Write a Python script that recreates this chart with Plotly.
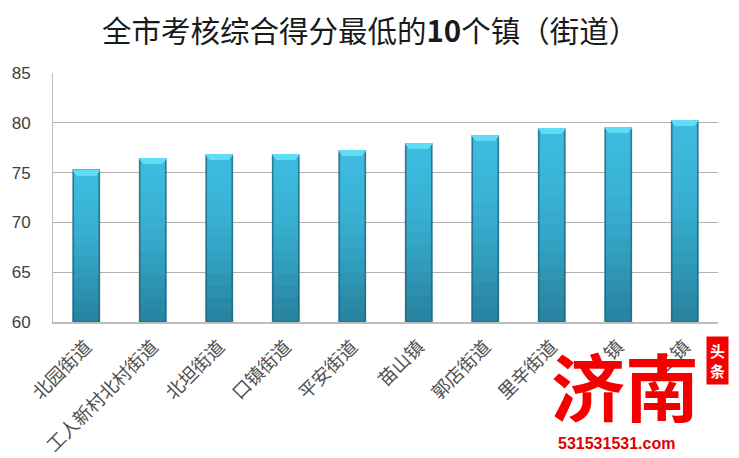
import plotly.graph_objects as go

CATEGORIES = ["北园街道", "工人新村北村街道", "北坦街道", "口镇街道", "平安街道",
              "苗山镇", "郭店街道", "里辛街道", "镇", "二镇"]
SCORES = [75.25, 76.4, 76.8, 76.8, 77.2, 77.9, 78.7, 79.4, 79.5, 80.2]
BASE = 60
# top to bottom body colours of the bars
BODY_COLORS = ["#3DBADD", "#3CB9DC", "#3BB7DA", "#3AB5D8", "#39B3D5", "#38AFD1", "#36ABCC",
               "#34A6C7", "#32A1C1", "#309BBA", "#2E95B3", "#2C8FAD", "#2A89A6", "#2884A0"]
# the bevel on top of each bar narrows as it goes down
CAP_WIDTHS = [0.4, 0.375, 0.35, 0.325, 0.3]
CAP_STEP = 0.1

fig = go.Figure()

# soft shadow behind the bars
fig.add_trace(go.Bar(
    x=CATEGORIES,
    y=[v - BASE for v in SCORES],
    base=BASE,
    width=0.43,
    marker=dict(color="rgba(90,90,90,0.25)", line=dict(width=0)),
    hoverinfo="skip",
))

# gradient: nested bars, each shorter one painted over the taller one
n = len(BODY_COLORS)
for i, color in enumerate(BODY_COLORS):
    fig.add_trace(go.Bar(
        x=CATEGORIES,
        y=[(v - BASE) * (n - i) / n for v in SCORES],
        base=BASE,
        width=0.4,
        marker=dict(color=color, line=dict(width=0)),
        hoverinfo="skip",
    ))

# dark side bevels
fig.add_trace(go.Bar(
    x=CATEGORIES,
    y=[v - BASE for v in SCORES],
    base=BASE,
    width=0.39,
    marker=dict(color="rgba(0,0,0,0)", line=dict(color="rgba(30,105,130,0.8)", width=1.5)),
    customdata=SCORES,
    hovertemplate="%{x}: %{customdata}<extra></extra>",
))

# light top cap
for i, cap_width in enumerate(CAP_WIDTHS):
    fig.add_trace(go.Bar(
        x=CATEGORIES,
        y=[CAP_STEP] * len(SCORES),
        base=[v - CAP_STEP * (i + 1) for v in SCORES],
        width=cap_width,
        marker=dict(color="#5FDDF5", line=dict(width=0)),
        hoverinfo="skip",
    ))

# the page has an 8px body margin, so the margins here are 8px smaller on the left and top
fig.update_layout(
    width=739,
    height=458,
    barmode="overlay",
    showlegend=False,
    paper_bgcolor="white",
    plot_bgcolor="white",
    margin=dict(l=45, r=29, t=65, b=144),
    font=dict(family="Noto Sans CJK SC", color="#404040"),
    title=dict(
        text="全市考核综合得分最低的<b>10</b>个镇（街道）",
        x=0.49,
        xanchor="center",
        y=0.948,
        yanchor="middle",
        font=dict(family="Noto Sans CJK SC", size=29.5, color="#1a1a1a"),
    ),
    annotations=[
        # watermark
        dict(text="<b>济南</b>", xref="paper", yref="paper", x=0.86, y=-0.245,
             height=86, showarrow=False, xanchor="center", yanchor="middle",
             font=dict(family="Noto Sans CJK SC", size=74, color="#F40000")),
        dict(text="<b>头<br>条</b>", xref="paper", yref="paper", x=0.9985, y=-0.153,
             showarrow=False, xanchor="center", yanchor="middle", bgcolor="#F40000",
             borderpad=3, font=dict(family="Noto Sans CJK SC", size=15, color="white")),
        dict(text="<b>531531531.com</b>", xref="paper", yref="paper", x=0.847, y=-0.486,
             showarrow=False, xanchor="center", yanchor="middle",
             font=dict(family="Liberation Sans", size=16, color="#E00000")),
    ],
)
fig.update_xaxes(
    automargin=False,
    tickangle=-45,
    tickfont=dict(family="Noto Sans CJK SC", size=18.5, color="#505050"),
    ticklabelstandoff=5,
    showline=True,
    linecolor="#BDBDBD",
    linewidth=1.5,
    ticks="",
    showgrid=False,
)
fig.update_yaxes(
    automargin=False,
    range=[60, 85],
    dtick=5,
    tickfont=dict(family="Liberation Sans", size=17, color="#404040"),
    ticklabelstandoff=18,
    showline=True,
    linecolor="#BDBDBD",
    linewidth=1,
    gridcolor="#B0B0B0",
    gridwidth=1,
    ticks="",
    zeroline=False,
)

fig.write_html("out.html")
